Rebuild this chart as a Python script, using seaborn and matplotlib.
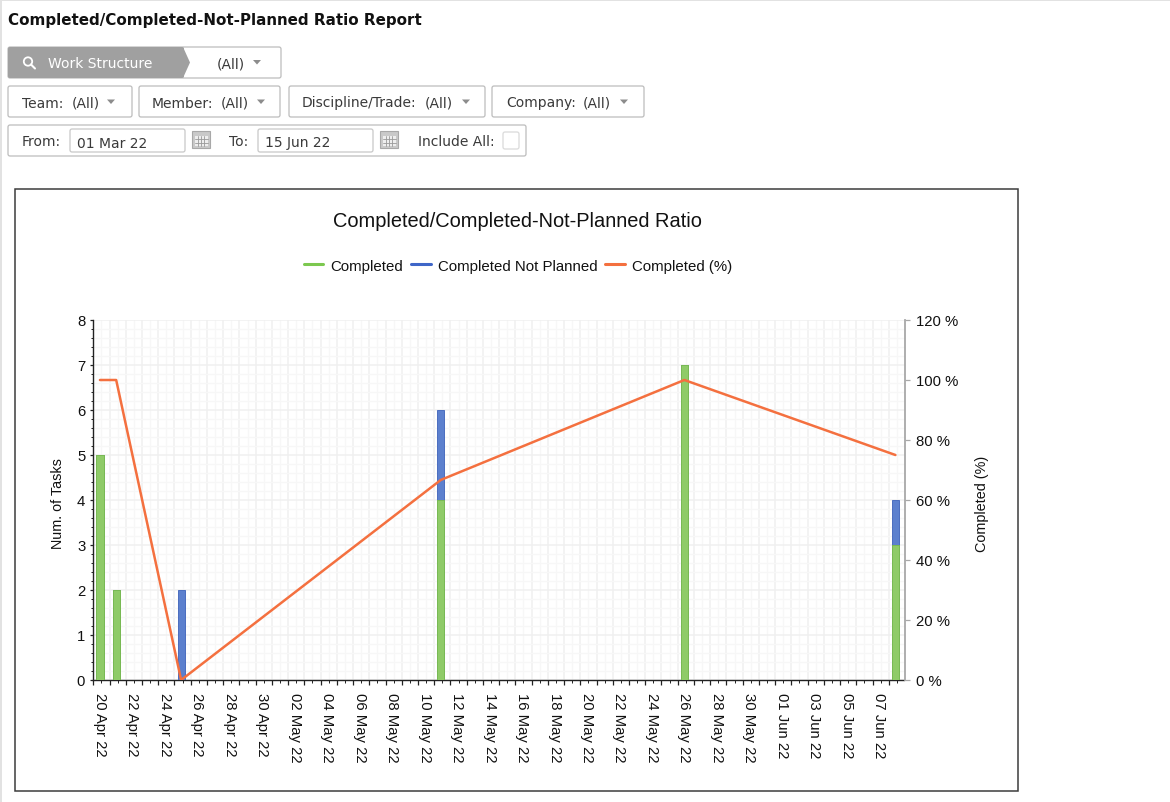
import matplotlib
matplotlib.use('Agg')
import matplotlib.pyplot as plt
import matplotlib.dates as mdates
import matplotlib.transforms as mtrans
from matplotlib.lines import Line2D
from matplotlib.patches import FancyBboxPatch, Polygon, Rectangle, Circle
from matplotlib.ticker import FuncFormatter, MultipleLocator
import numpy as np
import pandas as pd
import seaborn as sns

dates = ['2022-04-20', '2022-04-21', '2022-04-25', '2022-05-11', '2022-05-26', '2022-06-08']
completed = [5, 2, 0, 4, 7, 3]
not_planned = [0, 0, 2, 2, 0, 1]
completed_pct = [100, 100, 0, 66.7, 100, 75]

y_ticks = [0, 1, 2, 3, 4, 5, 6, 7, 8]
pct_ticks = [0, 20, 40, 60, 80, 100, 120]
first_day = '2022-04-20'
last_day = '2022-06-08'

GREEN = '#8FCB68'
GREEN_EDGE = '#79BA52'
BLUE = '#5C80CE'
BLUE_EDGE = '#4A6DBF'
ORANGE = '#F4703F'
FONT = 'Liberation Sans'
UI_FONT = 'DejaVu Sans'
UI_TEXT = '#3a3a3a'
CHART_SIZE = 10.7

sns.set_style('white')
plt.rcParams['font.family'] = [FONT, 'DejaVu Sans']

W, H = 1170, 803
fig = plt.figure(figsize=(W / 100, H / 100), dpi=100, facecolor='white')

# page overlay in pixel coordinates
page = fig.add_axes([0, 0, 1, 1], zorder=0)
page.set_xlim(0, W)
page.set_ylim(H, 0)
page.axis('off')


def box(x0, y0, x1, y1, fc='white', ec='#bcbcbc', lw=0.9):
    page.add_patch(FancyBboxPatch((x0, y0), x1 - x0, y1 - y0,
                                  boxstyle='round,pad=0,rounding_size=2',
                                  fc=fc, ec=ec, lw=lw))


def label(x, y, s, color=UI_TEXT, size=10, **kw):
    page.text(x, y + 1, s, color=color, fontsize=size, family=UI_FONT, va='center', **kw)


def caret(x, y):
    page.add_patch(Polygon([(x - 4, y - 2), (x + 4, y - 2), (x, y + 2.5)], fc='#8c8c8c', ec='none'))


def calendar(x, y):
    page.add_patch(Rectangle((x, y), 18, 17, fc='#c9c9c9', ec='#a8a8a8', lw=0.8))
    page.add_patch(Rectangle((x + 2.5, y + 5), 13, 10, fc='#eeeeee', ec='none'))
    for k in range(1, 4):
        page.plot([x + 2.5 + k * 3.25] * 2, [y + 5, y + 15], color='#999999', lw=0.6)
    for k in range(1, 3):
        page.plot([x + 2.5, x + 15.5], [y + 5 + k * 3.3] * 2, color='#999999', lw=0.6)


page.add_patch(Rectangle((0, 0), W, 1.5, fc='#e2e2e2', ec='none'))
page.add_patch(Rectangle((0, 0), 2, H, fc='#e2e2e2', ec='none'))
page.text(8, 20.5, 'Completed/Completed-Not-Planned Ratio Report', fontsize=10.9,
          family=UI_FONT, weight='bold', color='#111111', va='center')

# work structure selector
box(8, 48, 281, 79)
page.add_patch(FancyBboxPatch((8, 48), 176, 31, boxstyle='round,pad=0,rounding_size=2', fc='#a0a0a0', ec='none'))
page.add_patch(Polygon([(183, 48), (190, 63.5), (183, 79)], fc='#a0a0a0', ec='none'))
page.add_patch(Circle((28, 62.5), 4.2, fc='none', ec='white', lw=1.3))
page.plot([31, 35], [65.5, 69.5], color='white', lw=1.5)
label(48, 63.5, 'Work Structure', color='white')
label(217, 63.5, '(All)')
caret(257, 63)

# filter row
for x0, x1, text_x, s, all_x, caret_x in [(8, 132, 22, 'Team:', 71.5, 111),
                                          (139, 280, 152, 'Member:', 221, 261),
                                          (289, 485, 302, 'Discipline/Trade:', 425, 466),
                                          (492, 644, 506, 'Company:', 583, 624)]:
    box(x0, 87, x1, 118)
    label(text_x, 102.5, s)
    label(all_x, 102.5, '(All)')
    caret(caret_x, 102.5)

# date row
box(8, 126, 526, 157)
label(22, 141.5, 'From:')
box(70, 130, 185, 153, ec='#c8c8c8')
label(77, 142.5, '01 Mar 22')
calendar(192, 132)
label(229, 141.5, 'To:')
box(258, 130, 373, 153, ec='#c8c8c8')
label(265, 142.5, '15 Jun 22')
calendar(380, 132)
label(418, 141.5, 'Include All:')
box(503, 133, 519, 150, ec='#dadada')

# chart frame
page.add_patch(Rectangle((14.5, 189.5), 1003.5, 602.5, fc='white', ec='#3c3c3c', lw=1.1))
page.text(517.5, 221.5, 'Completed/Completed-Not-Planned Ratio', fontsize=14.4, color='#111111',
          ha='center', va='center')

# chart axes
left, right, top, bottom = 93.3, 904.5, 321, 681
ax = fig.add_axes([left / W, 1 - bottom / H, (right - left) / W, (bottom - top) / H], zorder=2)
ax.patch.set_alpha(0)

day_nums = mdates.date2num(pd.to_datetime(dates))
totals = np.array(completed) + np.array(not_planned)
bars = pd.DataFrame({'day': day_nums, 'total': totals, 'completed': completed})
sns.barplot(data=bars, x='day', y='total', native_scale=True, width=0.44, color=BLUE, saturation=1,
            edgecolor=BLUE_EDGE, linewidth=0.7, ax=ax, zorder=3)
sns.barplot(data=bars[bars['completed'] > 0], x='day', y='completed', native_scale=True, width=0.44,
            color=GREEN, saturation=1, edgecolor=GREEN_EDGE, linewidth=0.7, ax=ax, zorder=3)

start = mdates.date2num(pd.Timestamp(first_day))
end = mdates.date2num(pd.Timestamp(last_day))
shift = 0.41  # ticks sit left of the day they name
all_days = np.arange(start, end + 1)
ax.set_xlim(start - shift, end + 0.56)
ax.set_ylim(0, 8)
ax.set_xticks(all_days - shift)
ax.set_xticks(all_days - shift + 0.5, minor=True)
tick_labels = [mdates.num2date(d).strftime('%d %b %y') if i % 2 == 0 and d < end else ''
               for i, d in enumerate(all_days)]
ax.set_xticklabels(tick_labels, rotation=-90, fontsize=CHART_SIZE, color='#111111', ha='center', va='top')
ax.set_yticks(y_ticks)
ax.yaxis.set_minor_locator(MultipleLocator(0.2))
ax.tick_params(axis='y', which='major', left=True, length=2, width=0.9, color='#222222', labelsize=CHART_SIZE,
               labelcolor='#111111', pad=3.8)
ax.tick_params(axis='y', which='minor', left=True, length=1.5, width=0.7, color='#222222')
ax.tick_params(axis='x', which='major', bottom=True, length=3.6, width=0.9, color='#222222', pad=5)
ax.tick_params(axis='x', which='minor', bottom=True, length=1.8, width=0.7, color='#222222')
offset = mtrans.ScaledTranslation(shift * 16.25 / 100, 0, fig.dpi_scale_trans)
for t in ax.get_xticklabels():
    t.set_transform(t.get_transform() + offset)

ax.set_axisbelow(True)
ax.grid(which='major', color='#f0f0f0', lw=1.1)
ax.grid(which='minor', color='#f7f7f7', lw=0.9)
for side in ['top', 'right']:
    ax.spines[side].set_visible(False)
ax.spines['left'].set_color('#222222')
ax.spines['bottom'].set_color('#222222')
ax.spines['left'].set_linewidth(1)
ax.spines['bottom'].set_linewidth(1)
ax.set_xlabel('')
ax.set_ylabel('Num. of Tasks', fontsize=10.4, color='#111111')
ax.yaxis.set_label_coords((65 - left) / (right - left), 0.493)

twin = ax.twinx()
twin.set_zorder(3)
sns.lineplot(x=day_nums, y=completed_pct, color=ORANGE, lw=1.8, ax=twin, errorbar=None, estimator=None)
twin.set_ylim(0, 120)
twin.set_yticks(pct_ticks)
twin.yaxis.set_major_formatter(FuncFormatter(lambda v, _: f'{v:.0f} %'))
twin.tick_params(axis='y', right=True, length=3.6, width=0.9, color='#a8a8a8', labelsize=CHART_SIZE,
                 labelcolor='#111111', pad=4.4)
twin.grid(False)
for side in ['top', 'left', 'bottom']:
    twin.spines[side].set_visible(False)
twin.spines['right'].set_color('#a8a8a8')
twin.spines['right'].set_linewidth(1.3)
twin.set_ylabel('Completed (%)', fontsize=10.4, color='#111111')
twin.yaxis.set_label_coords((975 - left) / (right - left), 0.493)

handles = [Line2D([], [], color='#7CC84F', lw=2.2), Line2D([], [], color='#3F66C8', lw=2.2),
           Line2D([], [], color=ORANGE, lw=2.2)]
fig.legend(handles, ['Completed', 'Completed Not Planned', 'Completed (%)'], loc='center',
           bbox_to_anchor=(518 / W, 1 - 266.5 / H), ncol=3, frameon=False, fontsize=10.8,
           handlelength=1.3, handletextpad=0.47, columnspacing=0.53, labelcolor='#111111')

fig.savefig('out.png', dpi=100)
